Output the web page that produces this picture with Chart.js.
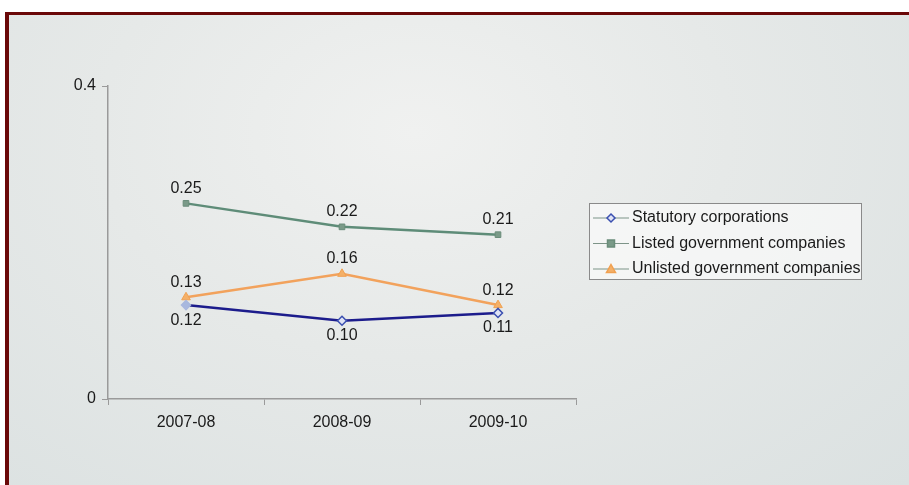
<!DOCTYPE html>
<html>
<head>
<meta charset="utf-8">
<script src="https://cdn.jsdelivr.net/npm/chart.js@4/dist/chart.umd.min.js"></script>
<style>
  html, body { margin:0; padding:0; background:#ffffff; }
  #frame {
    position:absolute; left:5px; top:12px; width:904px; height:473px;
    box-sizing:border-box;
    border-top:3px solid #6a0808; border-left:4px solid #6a0808;
    background: radial-gradient(ellipse at 45% 25%, #f0f1f0 0%, #e6e9e8 45%, #dbe1e1 100%);
  }
  #wrap { position:absolute; left:0; top:0; width:909px; height:485px; }
</style>
</head>
<body>
<div id="frame"></div>
<div id="wrap"><canvas id="c" width="909" height="485"></canvas></div>
<script>
const categories = ["2007-08", "2008-09", "2009-10"];
const seriesNames = ["Statutory corporations", "Listed government companies", "Unlisted government companies"];
const statutory = [0.12, 0.10, 0.11];
const listed = [0.25, 0.22, 0.21];
const unlisted = [0.13, 0.16, 0.12];
const yTicks = [0, 0.4];
const labelText = [["0.12","0.10","0.11"],["0.25","0.22","0.21"],["0.13","0.16","0.12"]];

const FONT = "'Liberation Sans', Arial, sans-serif";

const dataLabels = {
  id: 'dataLabels',
  afterDatasetsDraw(chart) {
    const ctx = chart.ctx;
    ctx.save();
    ctx.font = "16px " + FONT;
    ctx.fillStyle = "#1a1a1a";
    ctx.textAlign = "center";
    chart.data.datasets.forEach((ds, di) => {
      const meta = chart.getDatasetMeta(di);
      meta.data.forEach((pt, i) => {
        const below = ds.labelPos === 'below';
        ctx.textBaseline = below ? 'top' : 'bottom';
        ctx.fillText(labelText[di][i], pt.x, below ? pt.y + 7 : pt.y - 7);
      });
    });
    ctx.restore();
  }
};

const boxLegend = {
  id: 'boxLegend',
  afterDraw(chart) {
    const ctx = chart.ctx;
    const x0 = 589, y0 = 203, w = 272, h = 76;
    ctx.save();
    ctx.fillStyle = "rgba(252,252,252,0.65)";
    ctx.fillRect(x0, y0, w, h);
    ctx.strokeStyle = "#8a8a8a";
    ctx.lineWidth = 1;
    ctx.strokeRect(x0 + 0.5, y0 + 0.5, w, h);
    ctx.font = "16px " + FONT;
    ctx.textBaseline = "middle";
    ctx.textAlign = "left";
    chart.data.datasets.forEach((ds, i) => {
      const y = y0 + 15 + i * 25.5;
      ctx.strokeStyle = "#7d9488";
      ctx.lineWidth = 1.2;
      ctx.beginPath(); ctx.moveTo(x0 + 4, y); ctx.lineTo(x0 + 40, y); ctx.stroke();
      ctx.fillStyle = Array.isArray(ds.pointBackgroundColor) ? ds.pointBackgroundColor[1] : ds.pointBackgroundColor;
      ctx.strokeStyle = Array.isArray(ds.pointBorderColor) ? ds.pointBorderColor[1] : ds.pointBorderColor;
      ctx.lineWidth = 1.5;
      ctx.beginPath();
      const px = x0 + 22, r = 3.5;
      if (ds.pointStyle === 'rectRot') {
        ctx.moveTo(px, y - r - 0.5); ctx.lineTo(px + r + 0.5, y); ctx.lineTo(px, y + r + 0.5); ctx.lineTo(px - r - 0.5, y); ctx.closePath();
      } else if (ds.pointStyle === 'rect') {
        ctx.rect(px - r, y - r, 2 * r, 2 * r);
      } else {
        ctx.moveTo(px, y - r - 1); ctx.lineTo(px + r + 1, y + r); ctx.lineTo(px - r - 1, y + r); ctx.closePath();
      }
      ctx.fill(); ctx.stroke();
      ctx.fillStyle = "#1a1a1a";
      ctx.fillText(ds.label, x0 + 43, y);
    });
    ctx.restore();
  }
};

new Chart(document.getElementById('c'), {
  type: 'line',
  data: {
    labels: categories,
    datasets: [
      { label: seriesNames[0], data: statutory, borderColor: "#1c1c8c", borderWidth: 2.5,
        pointStyle: 'rectRot', pointRadius: 4.5, pointBorderWidth: 1.5,
        pointBackgroundColor: ["#a8b8de", "#dfe3f5", "#dfe3f5"], pointBorderColor: ["#a8b8de", "#3a4fb0", "#3a4fb0"],
        labelPos: 'below', tension: 0 },
      { label: seriesNames[1], data: listed, borderColor: "#5e8c78", borderWidth: 2.5,
        pointStyle: 'rect', pointRadius: 4, pointBorderWidth: 1,
        pointBackgroundColor: "#7a9a88", pointBorderColor: "#6a8c7a",
        labelPos: 'above', tension: 0 },
      { label: seriesNames[2], data: unlisted, borderColor: "#f2a25c", borderWidth: 2.5,
        pointStyle: 'triangle', pointRadius: 5, pointBorderWidth: 1,
        pointBackgroundColor: "#f4b068", pointBorderColor: "#f0a050",
        labelPos: 'above', tension: 0 }
    ]
  },
  options: {
    responsive: false,
    animation: false,
    events: [],
    layout: { padding: { left: 0, top: 86, right: 333, bottom: 40 } },
    plugins: { legend: { display: false }, tooltip: { enabled: false } },
    scales: {
      x: {
        offset: true,
        grid: { display: true, drawOnChartArea: false, drawTicks: true, tickLength: 6, offset: true, color: "#9a9a9a" },
        border: { color: "#9a9a9a", width: 1.5 },
        ticks: { color: "#1a1a1a", font: { family: FONT, size: 16 }, padding: 8 },
        afterFit(s) { s.height = 46; }
      },
      y: {
        min: 0, max: 0.4,
        afterBuildTicks(s) { s.ticks = yTicks.map(v => ({ value: v })); },
        grid: { display: true, drawOnChartArea: false, drawTicks: true, tickLength: 6, color: "#9a9a9a" },
        border: { color: "#9a9a9a", width: 1.5 },
        ticks: { color: "#1a1a1a", font: { family: FONT, size: 16 }, padding: 6,
                 callback: v => String(v) },
        afterFit(s) { s.width = 108; }
      }
    }
  },
  plugins: [dataLabels, boxLegend]
});
</script>
</body>
</html>
